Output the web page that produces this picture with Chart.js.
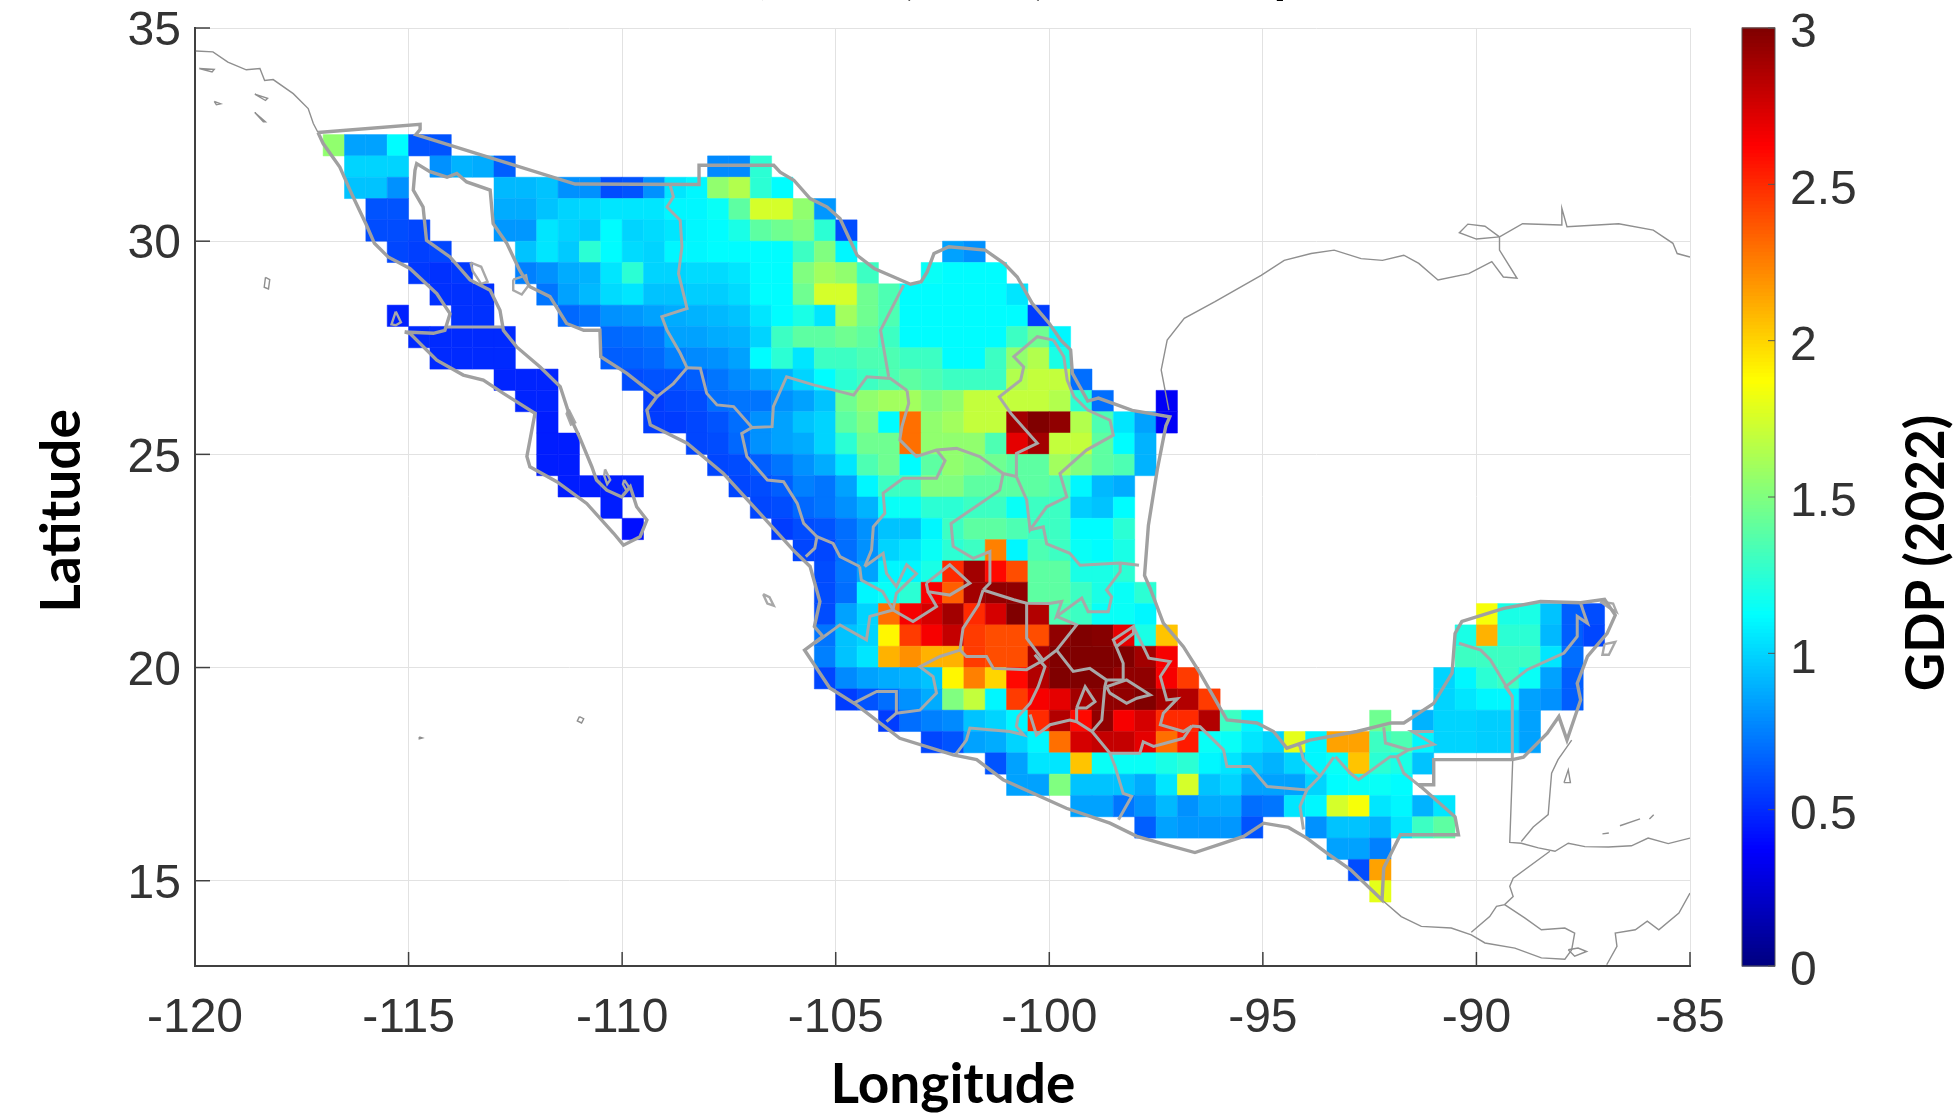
<!DOCTYPE html>
<html>
<head>
<meta charset="utf-8">
<title>GDP (2022) Mexico</title>
<script src="https://cdn.jsdelivr.net/npm/chart.js@4/dist/chart.umd.js"></script>
<style>
  html, body { margin: 0; padding: 0; background: #fff; }
  canvas { display: block; }
</style>
</head>
<body>
<canvas id="map" width="1960" height="1117"></canvas>
<script>
// axis ticks
const lonTicks = [-120, -115, -110, -105, -100, -95, -90, -85];
const latTicks = [15, 20, 25, 30, 35];
const gdpTicks = [0, 0.5, 1, 1.5, 2, 2.5, 3];

// grid rows, 0.5 degree cells. rowLat = south edge, rowWest = west edge of first cell
const n = null;
const rowLat = [32, 31.5, 31, 30.5, 30, 29.5, 29, 28.5, 28, 27.5, 27, 26.5, 26, 25.5, 25, 24.5, 24, 23.5, 23, 22.5, 22,
  21.5, 21, 21, 20.5, 20.5, 20, 20, 19.5, 19.5, 19, 19, 18.5, 18.5, 18, 17.5, 17, 16.5, 16, 15.5, 15, 14.5];
const rowWest = [-117, -116.5, -116.5, -116, -116, -115.5, -115, -114.5, -115.5, -115, -114.5, -113, -112.5, -112, -112, -112, -111.5, -110.5, -110, -106, -105.5,
  -105.5, -105.5, -90, -105.5, -90.5, -105.5, -90.5, -105.5, -91, -105, -91, -104, -92.5, -103, -101.5, -101, -99.5, -98, -93.5, -93, -92.5];
const rowGdp = [
  [1.55,.85,.85,1.12,.62,.62],
  [1,1,1,n,.8,.9,.88,.65,n,n,n,n,n,n,n,n,n,.78,.78,1.25],
  [.95,.95,.8,n,n,n,n,.92,.92,.95,.8,.8,.6,.62,.8,1.05,1.1,1.55,1.65,1.25,1.12],
  [.62,.62,n,n,n,n,.88,.88,.95,1,1.02,1.05,1.05,1.05,1.1,1.1,1.15,1.4,1.75,1.75,1.55,.82],
  [.6,.6,.58,n,n,n,.82,.82,1.05,1,.97,1.12,1,1.02,1.05,1.1,1.12,1.2,1.4,1.45,1.5,1.25,.6],
  [.58,.56,.58,n,n,n,.95,1.05,.97,1.25,1.12,1.02,1,1.1,1.1,1.12,1.12,1.12,1.12,1.3,1.5,1.1,n,n,n,n,.85,.8],
  [.54,.52,.54,n,n,.75,.8,.88,.9,1.05,1.25,1,1,1.02,1.02,1.05,1.12,1.12,1.5,1.6,1.55,1.3,n,n,1.15,1.12,1.12,1.12],
  [.52,.52,.52,n,n,.72,.85,.92,1.02,1.05,.95,.95,.98,.98,1.02,1.12,1.12,1.45,1.75,1.75,1.45,1.35,1.12,1.12,1.12,1.12,1.12,1.05],
  [.47,n,n,.52,.52,n,n,n,.68,.72,.8,.82,.85,.88,.9,.92,.95,1.05,1.12,1.2,1.05,1.6,1.45,1.35,1.12,1.12,1.12,1.12,1.12,1.12,.55],
  [.5,.5,.5,.5,.5,n,n,n,n,.68,.7,.72,.85,.85,.88,.9,1,1.3,1.4,1.4,1.45,1.4,1.3,1.12,1.12,1.12,1.12,1.12,1.3,1.45,1.1],
  [.5,.5,.5,.5,n,n,n,n,.65,.66,.68,.75,.78,.8,.85,1.12,1.25,1.05,1.3,1.3,1.35,1.35,1.3,1.3,1.12,1.12,1.3,1.55,1.65,1.2],
  [.48,.48,.48,n,n,n,.6,.62,.62,.65,.72,.78,.85,.9,1,1.12,1.25,1.3,1.35,1.4,1.35,1.3,1.3,1.3,1.65,1.7,1.7,.7],
  [.48,.48,n,n,n,n,.55,.58,.6,.7,.72,.72,.8,.85,.95,1.45,1.55,1.6,1.6,1.5,1.55,1.7,1.7,1.7,1.7,1.65,1.25,.7,n,n,.35],
  [.46,n,n,n,n,.55,.55,.58,.62,.7,.8,.85,.95,1,1.4,1.5,1.12,2.3,1.55,1.6,1.7,1.7,2.9,3,2.95,1.65,1.35,1.05,.85,.35],
  [.46,.46,n,n,n,n,n,.58,.6,.68,.8,.85,.88,1,1.25,1.45,1.45,2.3,1.55,1.55,1.55,1.35,2.7,2.9,1.7,1.7,1.4,1.12,.9],
  [.46,.46,n,n,n,n,n,n,.58,.6,.65,.72,.8,.88,1.05,1.35,1.45,1.12,1.4,1.55,1.5,1.45,1.4,1.4,1.6,1.5,1.4,1.35,.9],
  [.46,.46,.46,.47,n,n,n,n,.58,.6,.65,.75,.72,.85,1.1,1.3,1.3,1.5,1.5,1.4,1.4,1.4,1.4,1.35,1.1,.92,.88],
  [.46,n,n,n,n,n,n,.58,.6,.68,.72,.8,.9,1.15,1.15,1.25,1.25,1.3,1.3,1.15,1.3,1.3,.98,.95,1.12],
  [.42,n,n,n,n,n,n,.55,.6,.62,.7,.8,.95,.95,1.1,1.3,1.4,1.4,1.35,1.3,1.3,1.12,1.12,1.25],
  [.58,.58,.7,.8,1,1.05,1.15,1.25,1.3,2.25,1.1,1.35,1.3,1.15,1.12,1.2],
  [.6,.72,.85,1.1,1.1,1.2,2.5,2.9,2.6,2.4,1.4,1.4,1.2,1.2,1.25],
  [.6,.7,1.1,1.15,1.25,2.65,2.35,2.9,2.95,2.95,1.4,1.4,1.3,1.2,1.15,1.25],
  [.6,.85,1,2.3,2.65,2.75,2.9,2.5,2.75,3,2.85,1.35,1.3,1.15,1.15,1.1],
  [1.85,1.2,1.2,.95,.65,.6],
  [.72,.95,1,1.9,2.45,2.65,2.8,2.45,2.4,2.4,2.4,2.95,3,2.98,2.7,1.2,2.05],
  [1.2,2.1,1.25,1.25,.92,.65,.58],
  [.75,.95,1.05,2.1,2.2,2.1,2.1,2.45,2.4,2.4,2.9,3,3,3,3,2.9,2.65],
  [1.3,1.3,1.3,1.3,1.05,.7],
  [.58,.78,.85,.88,.9,.95,1.9,2.25,2,2.6,2.85,3,3,3,2.95,2.95,2.65,2.45],
  [1,1.1,1.25,1.3,1.15,.85,.65],
  [.55,.62,.7,.8,.88,1.5,1.7,1.1,2.45,2.65,2.7,2.9,2.95,2.95,3,2.9,2.85,2.45],
  [1,1.05,1.1,1.1,.85,.8,.65],
  [.55,.7,.75,.78,.95,1,1.1,2.5,2.85,2.6,2.95,2.65,2.75,2.5,2.5,2.85,1.3,1.1],
  [1.45,n,.9,1,1,.98,.98,.85],
  [.58,.62,.85,.88,1,1.1,2.3,2.75,2.8,2.8,2.7,2.3,2.55,1.15,1.15,1.05,1,1.8,1.1,2.15,2.15,1.3,1.35,1.1,1,1,.98,.98,.85],
  [.62,.85,1.05,1.05,2.05,1.15,1.15,1.15,1.2,1.25,1.1,1.05,.95,.9,1,1.1,1.15,2.05,1.25,1.2,.95],
  [.85,.85,1.5,.95,.95,.95,.88,1.05,1.75,.95,1,.85,.85,.85,1,1.12,1.15,1.15,1.12],
  [.85,.85,.72,.8,.92,.8,.88,.88,.7,.72,1.05,1.1,1.75,1.85,1.05,1.1,.9,1.05],
  [.65,.85,.82,.82,.82,.62,n,n,.8,.95,.95,.9,1.05,1.3,1.4],
  [.85,.85,.75],
  [.6,2.15],
  [1.8]
];

// outline of the country, lon/lat
const mexicoOutline = [[-117.12,32.55],[-114.73,32.74],[-114.73,32.62],[-114.83,32.5],[-111.1,31.34],[-108.2,31.33],[-108.2,31.78],[-106.45,31.78],
  [-106.3,31.62],[-105.98,31.43],[-105.6,31],[-105.2,30.8],[-104.9,30.53],[-104.7,30.1],[-104.5,29.67],[-104.1,29.36],[-103.64,29.16],[-103.25,28.99],[-103,29.05],[-102.86,29.28],[-102.7,29.71],[-102.35,29.87],[-101.5,29.79],[-101.06,29.48],[-100.75,29.16],[-100.4,28.54],[-100,28.07],[-99.73,27.68],[-99.5,27.45],[-99.46,26.9],[-99.1,26.25],[-98.85,26.32],[-98.06,26.03],[-97.18,25.88],
  [-97.27,25.67],[-97.47,24.65],[-97.68,23.33],[-97.77,22.16],[-97.64,21.86],[-97.33,21.04],[-96.86,20.49],[-96.47,19.87],[-96,19.05],[-95.84,18.77],[-95.14,18.7],[-94.75,18.5],[-94.44,18.11],[-93.9,18.3],[-92.8,18.5],[-92,18.7],[-91.7,18.7],[-91,19.16],[-90.57,19.87],[-90.5,20.8],[-90.34,21.08],[-89.36,21.39],[-88.5,21.55],[-87.56,21.52],[-87,21.6],[-86.75,21.23],[-86.94,20.8],[-87.4,20.26],[-87.64,19.63],[-87.56,19.24],[-87.88,18.3],[-88.07,18.85],[-88.34,18.46],[-88.9,17.9],[-89.16,17.84],
  [-91,17.84],[-91,17.25],[-91.35,17.25],[-90.5,16.5],[-90.42,16.08],[-91.78,16.08],[-92.17,15.3],[-92.21,14.55],[-92.95,15.26],[-93.5,15.65],[-93.97,16],[-94.4,16.25],[-94.98,16.35],[-95.45,16.04],[-96.59,15.66],[-97.25,15.84],[-97.95,16.04],[-98.58,16.35],[-99.6,16.7],[-101.08,17.37],[-101.7,17.84],[-102.25,17.95],[-103.5,18.34],[-104.52,19.13],[-105.14,19.52],[-105.73,20.41],[-105.3,20.73],[-105.5,20.96],[-105.37,21.55],[-105.6,22.37],[-106,22.76],[-106.78,23.62],[-107.63,24.55],[-108.48,25.26],[-109.34,25.69],[-109.42,26.04],[-109.19,26.35],[-109.89,26.9],[-110.5,27.29],[-110.52,27.91],[-110.9,27.91],[-111.3,28.07],[-111.69,28.7],[-112.16,28.93],[-112.4,29.32],[-112.7,29.95],[-113.02,30.41],[-113.09,31.2],[-113.64,31.39],[-113.87,31.59],[-114.1,31.5],[-114.5,31.63],[-114.81,31.82],[-114.85,31.66],[-114.89,31.2],[-114.66,30.8],[-114.58,30.02],[-114.03,29.63],[-113.56,29.09],[-113.09,28.85],[-112.86,28.38],[-112.78,27.91],[-112.47,27.52],[-111.92,27.05],[-111.45,26.59],[-111.22,25.88],[-111,25.41],[-110.71,24.71],[-110.6,24.4],[-110.36,24.16],[-110.01,24],[-109.81,24.24],[-109.66,23.77],[-109.42,23.46],[-109.58,23.07],[-109.97,22.87],[-110.2,23.15],[-110.83,23.85],[-111.53,24.36],[-112.16,24.71],[-112.23,24.95],[-112.04,25.96],[-112.78,26.43],[-113.25,26.74],[-113.72,26.86],[-114.34,27.21],[-114.97,27.84],[-115.09,27.87],[-114.42,27.84],[-114.15,27.91],[-114.03,28.3],[-114.34,28.77],[-114.97,29.36],[-115.48,29.63],[-115.8,29.95],[-116,30.41],[-116.3,31.04],[-116.61,31.74],[-117,32.29],[-117.12,32.55]];

// state lines
const bajaLine = [[-114.11,27.99],[-112.78,27.99]];
const sonoraChihuahua = [[-108.88,31.33],[-108.8,31.04],[-108.95,30.8],[-108.64,30.49],[-108.6,29.87],[-108.68,29.24],[-108.48,28.42],[-109.07,28.23],[-108.95,27.91],[-108.64,27.37],[-108.48,27.03]];
const sonoraSinaloa = [[-108.48,27.03],[-108.8,26.66],[-109.19,26.35]];
const chihuahuaSinaloa = [[-108.48,27.03],[-108.17,27.02],[-108.02,26.43],[-107.78,26.16],[-107.39,26.12],[-106.96,25.63]];
const sinaloaDurango = [[-106.96,25.63],[-107.2,25.49],[-107.08,24.95],[-106.6,24.4],[-106.22,24.36],[-105.9,23.85],[-105.75,23.38],[-105.44,23.07],[-105.49,22.8],[-105.7,22.6]];
const chihuahuaDurango = [[-106.96,25.63],[-106.49,25.65],[-106.46,26.12],[-106.15,26.82],[-105.52,26.63],[-104.58,26.39],[-104.27,26.82],[-103.72,26.78],[-103.33,26.5]];
const chihuahuaCoahuila = [[-103.76,26.82],[-103.95,27.91],[-103.41,28.97]];
const coahuilaDurango = [[-103.33,26.5],[-103.29,26.2],[-103.45,25.65],[-103.5,25.34],[-103.11,24.95],[-102.64,25.1],[-102.17,25.14],[-101.63,24.95],[-101.08,24.55],[-100.77,24.48]];
const coahuilaNuevoLeon = [[-100.77,24.48],[-100.77,25.02],[-100.28,25.26],[-100.9,25.96],[-101.17,26.35],[-100.67,26.74],[-100.6,27.05],[-100.83,27.29],[-100.28,27.76],[-99.9,27.68]];
const nuevoLeonTamps = [[-99.9,27.68],[-99.66,27.29],[-99.58,26.74],[-99.42,26.35],[-99.1,26.04],[-98.58,25.8],[-98.5,25.45],[-99.13,25.1],[-99.75,24.55],[-99.59,24],[-100.06,23.77],[-100.45,23.23],[-100.53,23.93],[-100.77,24.48]];
const tampsSlp = [[-100.45,23.23],[-100.14,23.3],[-100.06,22.9],[-99.52,22.68],[-99.28,22.4],[-98.34,22.45],[-97.9,22.4]];
const durangoZacatecas = [[-102.64,25.1],[-102.44,24.85],[-102.64,24.44],[-103.42,24.44],[-103.89,24.09],[-103.85,23.62],[-104.12,23.3],[-104.16,22.76],[-104.32,22.37]];
const durangoNayarit = [[-104.44,22.37],[-104.9,22.6],[-105.06,22.91],[-105.44,23.07]];
const nayaritJalisco = [[-104.44,22.37],[-104.4,22.05],[-103.9,21.78],[-103.66,21.35],[-104.2,21.2],[-104.28,20.65],[-104.9,21],[-105.49,20.57]];
const zacatecasJalisco = [[-104.32,22.37],[-103.89,22.68],[-103.81,22.21],[-103.58,21.9],[-103.34,22.41],[-103.11,22.2],[-103.58,21.74],[-103.66,21.35]];
const aguascalientes = [[-102.88,21.98],[-102.33,22.41],[-101.86,21.98],[-102.33,21.7],[-102.84,21.78],[-102.88,21.98]];
const jaliscoBajio = [[-102.84,21.78],[-102.64,21.43],[-103.19,21.08],[-103.66,21.35]];
const zacatecasSlp = [[-101.08,24.55],[-101.16,24.16],[-102.3,23.38],[-102.25,22.84],[-101.78,22.56],[-101.39,22.72],[-101.39,21.98],[-101.55,21.82]];
const guanajuatoMich = [[-101.55,21.82],[-101.66,21.47],[-102.02,20.92],[-102.09,20.41],[-101.94,20.26],[-101.47,20.26],[-101.31,19.98],[-100.53,19.95],[-100.14,20.17]];
const jaliscoMich = [[-102.09,20.41],[-102.56,20.26],[-103.03,20.02],[-102.72,19.79],[-102.64,19.4],[-103.03,19],[-103.58,18.93],[-103.81,18.73]];
const colima = [[-104.59,19.16],[-104.04,19.44],[-103.58,19.44],[-103.58,18.93]];
const guanajuatoQro = [[-101.55,21.82],[-100.83,21.59],[-100.53,21.51],[-100,21.5],[-99.71,21.55],[-99.83,21.2],[-99.24,21.63],[-99.09,21.31],[-98.62,21.31],[-98.54,21.66],[-98.66,21.82],[-98.34,22.25],[-98.34,22.45]];
const queretaroSouth = [[-100.53,21.51],[-100.53,20.92],[-100.53,20.69],[-100.14,20.17],[-99.83,20.41],[-99.36,21],[-99.83,21.2]];
const hidalgo = [[-99.83,20.41],[-99.44,19.91],[-99.05,19.98],[-98.66,19.71],[-98.27,19.71],[-98.27,20.1],[-98.5,20.65],[-98.03,20.96],[-98.03,20.8],[-98.42,20.5]];
const pueblaVeracruz = [[-98.03,20.96],[-97.76,20.41],[-97.67,20.22],[-97.17,20.14],[-97.4,19.79],[-97.25,19.24],[-97,19.27],[-97.33,18.93],[-97.4,18.66],[-96.86,18.5],[-96.66,18.63]];
const tlaxcala = [[-98.66,19.55],[-98.19,19.71],[-97.64,19.36],[-97.95,19.28],[-98.19,19.16],[-98.58,19.4],[-98.66,19.55]];
const edomexWest = [[-100.34,20.3],[-100.1,20.02],[-100.26,19.55],[-100.45,19.16],[-100.73,18.85],[-100.77,18.62],[-100.6,18.42],[-100.92,18.5],[-101.39,18.54],[-101.86,18.58],[-101.94,18.3],[-102.2,17.95]];
const edomexSouth = [[-100.45,18.9],[-100.3,18.42],[-99.98,18.66],[-99.52,18.77],[-99.36,18.73],[-99,18.5],[-98.77,18.77],[-98.7,19.55],[-98.66,19.71]];
const cdmx = [[-99.36,19.05],[-99.16,19.55],[-98.93,19.2],[-99.13,19.05],[-99.36,19.05]];
const morelos = [[-99.36,18.73],[-99.36,19.05]];
const pueblaGuerrero = [[-99,18.5],[-98.58,17.99],[-97.88,17.99],[-97.8,18.26],[-97.56,18.15],[-96.86,18.34],[-96.66,18.63]];
const guerreroOaxaca = [[-98.58,17.99],[-98.46,17.68],[-98.27,17.05],[-98.07,16.98],[-98.38,16.43]];
const oaxacaVeracruz = [[-96.66,18.63],[-96.47,18.61],[-95.92,18.07],[-95.84,17.68],[-95.3,17.68],[-94.9,17.21],[-93.97,17.13],[-93.66,17.45],[-93.34,17.9]];
const veracruzTabasco = [[-94.2,18.22],[-94.13,18.15],[-94.05,17.84],[-93.66,17.45]];
const tabascoChiapas = [[-93.3,17.91],[-92.95,17.52],[-92.76,17.37],[-92.02,17.91],[-91.86,17.91],[-91.7,17.52],[-91.3,17.2]];
const tabascoCampeche = [[-92.17,18.6],[-92.13,18.23],[-91.59,18.07],[-91.86,17.91]];
const tabascoEast = [[-91.59,18.07],[-91,18.2],[-91.5,18.5],[-91,18.5]];
const chiapasOaxaca = [[-93.97,17.13],[-94.13,16.74],[-94.05,16.2]];
const campecheYucatan = [[-89.16,17.84],[-89.16,19.32],[-89.67,20.18],[-89.9,20.41],[-90.41,20.57]];
const yucatanRoo = [[-89.16,19.32],[-89.32,19.55],[-88.81,19.95],[-87.95,20.34],[-87.64,20.73],[-87.64,21.2],[-87.4,21.04],[-87.56,21.5]];
const stateLines = [bajaLine, sonoraChihuahua, sonoraSinaloa, chihuahuaSinaloa, sinaloaDurango, chihuahuaDurango, chihuahuaCoahuila, coahuilaDurango, coahuilaNuevoLeon, nuevoLeonTamps, tampsSlp, durangoZacatecas, durangoNayarit, nayaritJalisco, zacatecasJalisco, aguascalientes, jaliscoBajio, zacatecasSlp, guanajuatoMich, jaliscoMich, colima, guanajuatoQro, queretaroSouth, hidalgo, pueblaVeracruz, tlaxcala, edomexWest, edomexSouth, cdmx, morelos, pueblaGuerrero, guerreroOaxaca, oaxacaVeracruz, veracruzTabasco, tabascoChiapas, tabascoCampeche, tabascoEast, chiapasOaxaca, campecheYucatan, yucatanRoo];

// gulf islands in the thick colour
const angelGuarda = [[-113.55,29.5],[-113.3,29.4],[-113.15,29.05],[-113.3,29],[-113.5,29.3],[-113.55,29.5]];
const tiburon = [[-112.55,29.1],[-112.25,29.2],[-112.2,28.95],[-112.35,28.75],[-112.55,28.85],[-112.55,29.1]];
const cedros = [[-115.3,28.35],[-115.18,28.1],[-115.3,28.03],[-115.4,28.05],[-115.3,28.35]];
const cerralvo = [[-109.95,24.4],[-109.82,24.2],[-109.9,24.15],[-109.98,24.3],[-109.95,24.4]];
const espiritu = [[-110.4,24.65],[-110.28,24.4],[-110.35,24.3],[-110.42,24.5],[-110.4,24.65]];
const carmen = [[-111.25,26.05],[-111.1,25.75],[-111.2,25.7],[-111.3,25.95],[-111.25,26.05]];
const tresMarias = [[-106.7,21.72],[-106.55,21.65],[-106.45,21.45],[-106.6,21.5],[-106.7,21.72]];
const holbox = [[-87.1,21.55],[-86.8,21.5],[-86.72,21.3],[-86.9,21.4],[-87.1,21.55]];
const cozumel = [[-87,20.55],[-86.75,20.6],[-86.9,20.3],[-87.05,20.3],[-87,20.55]];
const gulfIslands = [angelGuarda, tiburon, cedros, cerralvo, espiritu, carmen, tresMarias, holbox, cozumel];

// thin coastlines outside Mexico
const californiaCoast = [[-119.98,34.46],[-119.58,34.44],[-119.23,34.2],[-118.8,34.02],[-118.48,34.05],[-118.37,33.77],[-118.17,33.79],[-117.7,33.46],[-117.35,33.11],[-117.23,32.76],[-117.12,32.55]];
const gulfCoast = [[-97.2,26.04],[-97.38,26.98],[-97.24,27.68],[-96.84,28.19],[-96.12,28.58],[-95.04,29.2],[-94.5,29.55],[-93.87,29.71],[-93.33,29.79],[-92.7,29.59],[-92.2,29.55],[-91.7,29.67],[-91.35,29.48],[-90.9,29.09],[-90.18,29.24],[-89.64,29.52],[-89.37,29.16],[-89.05,29.13],[-89.46,29.79],[-89.46,30.1],[-88.92,30.41],[-88.02,30.38],[-88,30.77],[-87.88,30.34],[-86.67,30.41],[-85.86,30.26],[-85.4,29.95],[-85.3,29.71],[-85,29.63]];
const pontchartrain = [[-89.46,30.1],[-90,30.05],[-90.4,30.2],[-90.2,30.4],[-89.8,30.35],[-89.46,30.1]];
const belizeWest = [[-89.15,17.84],[-89.22,15.9],[-88.95,15.88],[-88.55,15.77],[-88.16,15.69],[-87.85,15.88],[-87.46,15.8],[-86.91,15.79],[-86.37,15.82],[-85.98,16],[-85.51,15.87],[-85,16]];
const belizeCoast = [[-88.95,15.92],[-88.67,16.26],[-88.32,16.55],[-88.24,17.52],[-88.09,17.84],[-87.93,18.07],[-87.77,18.3]];
const guatemalaEast = [[-88.28,15.69],[-89.14,15.06],[-89.22,14.87],[-89.14,14.63],[-89.34,14.44],[-89.53,14.4],[-89.69,14.16],[-90.12,13.79]];
const pacificCoast = [[-92.21,14.55],[-91.76,14.16],[-91.29,13.93],[-90.59,13.89],[-90.12,13.73],[-89.8,13.54],[-89.1,13.42],[-88.48,13.19],[-87.93,13.16],[-87.77,13.38]];
const salvadorHonduras = [[-89.34,14.44],[-88.87,14.13],[-88.48,13.85],[-87.93,13.89],[-87.7,13.77],[-87.77,13.38]];
const hondurasNicaragua = [[-86.95,13.03],[-86.71,13.46],[-86.75,13.77],[-86.28,13.85],[-86,14.05],[-85.73,13.85],[-85.26,14.24],[-85,14.71]];
const fonseca = [[-87.85,13.38],[-87.62,13.42],[-87.42,13.34],[-87.7,13.23],[-87.85,13.38]];
const roatan = [[-86.64,16.29],[-86.17,16.45]];
const guanaja = [[-85.95,16.45],[-85.85,16.55]];
const utila = [[-87.05,16.1],[-86.9,16.12]];
const turneffe = [[-87.95,17.3],[-87.85,17.6],[-87.8,17.3],[-87.95,17.3]];
const santaCatalina = [[-118.6,33.45],[-118.3,33.35],[-118.35,33.3],[-118.6,33.45]];
const santaRosa = [[-119.9,34.05],[-119.55,34.03],[-119.6,33.97],[-119.9,34.05]];
const sanClemente = [[-118.6,33.02],[-118.35,32.8],[-118.4,32.8],[-118.6,33.02]];
const sanNicolas = [[-119.55,33.28],[-119.4,33.22],[-119.5,33.2],[-119.55,33.28]];
const guadalupe = [[-118.35,29.15],[-118.25,29.1],[-118.28,28.88],[-118.38,28.92],[-118.35,29.15]];
const socorro = [[-111,18.85],[-110.9,18.8],[-110.95,18.7],[-111.05,18.75],[-111,18.85]];
const clarion = [[-114.75,18.37],[-114.68,18.35],[-114.75,18.33],[-114.75,18.37]];
const outerLines = [californiaCoast, gulfCoast, pontchartrain, belizeWest, belizeCoast, guatemalaEast, pacificCoast, salvadorHonduras, hondurasNicaragua, fonseca, roatan, guanaja, utila, turneffe, santaCatalina, santaRosa, sanClemente, sanNicolas, guadalupe, socorro, clarion];

// bits of the cut off title still visible on the top edge
const titleBits = [[',', 764], ['(', 907], [')', 1040], ['p', 1288]];

// matlab jet between 0 and 3
function jet(v) {
  const t = Math.min(Math.max(v / 3, 0), 1);
  const ramp = d => Math.round(255 * Math.min(Math.max(1.5 - 4 * Math.abs(t - d), 0), 1));
  return `rgb(${ramp(0.75)},${ramp(0.5)},${ramp(0.25)})`;
}

// turn the rows into points at cell centres
const cells = [];
rowGdp.forEach((row, r) => {
  row.forEach((gdp, c) => {
    if (gdp === null) return;
    cells.push({ x: rowWest[r] + c * 0.5 + 0.25, y: rowLat[r] + 0.25, gdp: gdp });
  });
});

const toPoints = line => line.map(p => ({ x: p[0], y: p[1] }));
const lineSet = (line, color, width, order) => ({
  type: 'scatter',
  data: toPoints(line),
  showLine: true,
  borderColor: color,
  borderWidth: width,
  pointRadius: 0,
  tension: 0,
  fill: false,
  order: order,
  clip: true
});

const datasets = [
  {
    type: 'scatter',
    data: cells,
    pointStyle: 'rect',
    order: 5,
    // rect side is radius*sqrt(2), so size it from the scale
    pointRadius: ctx => {
      const xs = ctx.chart.scales.x;
      return Math.abs(xs.getPixelForValue(-100) - xs.getPixelForValue(-99.5)) * Math.SQRT1_2;
    },
    backgroundColor: ctx => jet(ctx.raw ? ctx.raw.gdp : 0),
    borderColor: ctx => jet(ctx.raw ? ctx.raw.gdp : 0),
    borderWidth: 0.5
  }
];
outerLines.forEach(l => datasets.push(lineSet(l, '#8f8f8f', 1.4, 3)));
stateLines.forEach(l => datasets.push(lineSet(l, '#a8a8a8', 3, 2)));
gulfIslands.forEach(l => datasets.push(lineSet(l, '#a8a8a8', 2.4, 2)));
datasets.push(lineSet(mexicoOutline, '#a0a0a0', 3.4, 1));

const tickFont = { family: '"Liberation Sans", Arial, sans-serif', size: 48 };
const tickColor = '#333333';
const gridColor = '#e2e2e2';

// forced plot box: keep chart.js from adding the tick padding on top and bottom
const noPad = s => { s.paddingTop = 0; s.paddingBottom = 0; s.paddingLeft = 0; s.paddingRight = 0; };

const mapExtras = {
  id: 'mapExtras',
  afterDraw(chart) {
    const { ctx, chartArea, scales } = chart;
    ctx.save();

    // inward ticks, matlab style
    ctx.strokeStyle = '#404040';
    ctx.lineWidth = 1.5;
    lonTicks.forEach(v => {
      const px = scales.x.getPixelForValue(v);
      ctx.beginPath();
      ctx.moveTo(px, chartArea.bottom);
      ctx.lineTo(px, chartArea.bottom - 14);
      ctx.stroke();
    });
    latTicks.forEach(v => {
      const py = scales.y.getPixelForValue(v);
      ctx.beginPath();
      ctx.moveTo(chartArea.left, py);
      ctx.lineTo(chartArea.left + 15, py);
      ctx.stroke();
    });

    // colorbar
    const cb = scales.cb;
    const barLeft = 1742, barRight = 1775;
    for (let i = 0; i < 256; i++) {
      const y0 = cb.getPixelForValue(i / 256 * 3);
      const y1 = cb.getPixelForValue((i + 1) / 256 * 3);
      ctx.fillStyle = jet((i + 0.5) / 256 * 3);
      ctx.fillRect(barLeft, y1 - 0.5, barRight - barLeft, y0 - y1 + 1);
    }
    ctx.strokeStyle = '#555555';
    ctx.lineWidth = 1;
    ctx.strokeRect(barLeft, cb.top, barRight - barLeft, cb.bottom - cb.top);
    gdpTicks.forEach(v => {
      const py = cb.getPixelForValue(v);
      ctx.beginPath();
      ctx.moveTo(barRight - 7, py);
      ctx.lineTo(barRight, py);
      ctx.stroke();
    });

    // titles
    ctx.fillStyle = '#000';
    ctx.textAlign = 'center';
    ctx.textBaseline = 'middle';
    ctx.font = 'bold 55px Lato, sans-serif';
    ctx.fillText('Longitude', 953, 1085);
    ctx.save();
    ctx.translate(62, 511);
    ctx.rotate(-Math.PI / 2);
    ctx.fillText('Latitude', 0, 0);
    ctx.restore();
    ctx.save();
    ctx.translate(1927, 553);
    ctx.rotate(-Math.PI / 2);
    ctx.font = 'bold 53px Lato, sans-serif';
    ctx.fillText('GDP (2022)', 0, 0);
    ctx.restore();

    // leftovers of the title
    ctx.textBaseline = 'alphabetic';
    ctx.font = 'bold 50px Lato, sans-serif';
    titleBits.forEach(b => ctx.fillText(b[0], b[1], -7));
    ctx.restore();
  }
};

new Chart(document.getElementById('map'), {
  type: 'scatter',
  data: { datasets: datasets },
  options: {
    responsive: false,
    animation: false,
    events: [],
    layout: { padding: { top: 28 } },
    plugins: { legend: { display: false }, tooltip: { enabled: false } },
    scales: {
      x: {
        type: 'linear',
        min: -120,
        max: -85,
        afterBuildTicks: s => { s.ticks = lonTicks.map(v => ({ value: v })); },
        afterFit: s => { s.height = 151; noPad(s); },
        grid: { color: gridColor, lineWidth: 1, drawTicks: false },
        border: { display: true, color: '#404040', width: 2 },
        ticks: { font: tickFont, color: tickColor, padding: 24, maxRotation: 0, autoSkip: false, callback: v => String(v) }
      },
      y: {
        type: 'linear',
        min: 13,
        max: 35,
        afterBuildTicks: s => { s.ticks = latTicks.map(v => ({ value: v })); },
        afterFit: s => { s.width = 195; noPad(s); },
        grid: { color: gridColor, lineWidth: 1, drawTicks: false },
        border: { display: true, color: '#404040', width: 2 },
        ticks: { font: tickFont, color: tickColor, padding: 14, labelOffset: 4, autoSkip: false, callback: v => String(v) }
      },
      cb: {
        type: 'linear',
        position: 'right',
        min: 0,
        max: 3,
        afterBuildTicks: s => { s.ticks = gdpTicks.map(v => ({ value: v })); },
        afterFit: s => { s.width = 270; noPad(s); },
        grid: { display: false, drawTicks: false },
        border: { display: false },
        ticks: { font: tickFont, color: tickColor, padding: 100, labelOffset: 6, autoSkip: false, callback: v => String(v) }
      }
    }
  },
  plugins: [mapExtras]
});
</script>
</body>
</html>
